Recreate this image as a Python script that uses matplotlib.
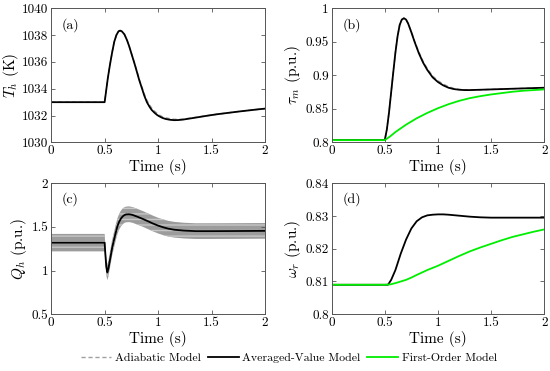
import matplotlib
matplotlib.use("Agg")
import matplotlib.pyplot as plt
from matplotlib.ticker import FormatStrFormatter
import numpy as np

# ---------------------------------------------------------------------------
# Data
# ---------------------------------------------------------------------------

# (a) hot-side temperature T_h (K)
TA_TIME = [0, 0.5, 0.51, 0.53, 0.55, 0.57, 0.59, 0.61, 0.63, 0.645, 0.66, 0.685,
           0.71, 0.73, 0.755, 0.78, 0.80, 0.825, 0.85, 0.87, 0.895, 0.92, 0.94,
           0.965, 0.99, 1.01, 1.04, 1.07, 1.11, 1.15, 1.19, 1.23, 1.27, 1.35,
           1.45, 1.55, 1.65, 1.75, 1.85, 1.95, 2.0]
TH_AVG = [1033.0, 1033.0, 1033.6, 1034.8, 1035.8, 1036.7, 1037.5, 1038.0, 1038.28,
          1038.33, 1038.28, 1038.05, 1037.6, 1037.15, 1036.5, 1035.85, 1035.3,
          1034.6, 1034.0, 1033.5, 1033.0, 1032.65, 1032.42, 1032.22, 1032.05,
          1031.95, 1031.83, 1031.75, 1031.69, 1031.66, 1031.67, 1031.7, 1031.75,
          1031.85, 1031.98, 1032.1, 1032.2, 1032.3, 1032.39, 1032.48, 1032.52]
TH_ADI = [1033.0, 1033.0, 1033.6, 1034.8, 1035.8, 1036.7, 1037.5, 1038.0, 1038.26,
          1038.3, 1038.25, 1038.03, 1037.6, 1037.15, 1036.52, 1035.9, 1035.36,
          1034.68, 1034.1, 1033.62, 1033.14, 1032.8, 1032.56, 1032.35, 1032.17,
          1032.05, 1031.92, 1031.84, 1031.77, 1031.73, 1031.72, 1031.74, 1031.78,
          1031.87, 1031.99, 1032.1, 1032.2, 1032.3, 1032.39, 1032.48, 1032.52]

# (b) mechanical torque tau_m (p.u.)
TB_TIME = [0, 0.5, 0.52, 0.54, 0.56, 0.58, 0.60, 0.62, 0.64, 0.66, 0.68, 0.70,
           0.72, 0.75, 0.78, 0.82, 0.86, 0.90, 0.95, 1.0, 1.05, 1.1, 1.15, 1.2,
           1.25, 1.3, 1.4, 1.5, 1.6, 1.7, 1.8, 1.9, 2.0]
TAU_AVG = [0.8035, 0.8035, 0.82, 0.845, 0.875, 0.905, 0.934, 0.958, 0.975, 0.983,
           0.985, 0.983, 0.977, 0.964, 0.950, 0.933, 0.919, 0.908, 0.897, 0.890,
           0.885, 0.8815, 0.8795, 0.8785, 0.878, 0.878, 0.8785, 0.879, 0.8795,
           0.880, 0.8805, 0.881, 0.8815]
TAU_ADI = [0.8035, 0.8035, 0.82, 0.845, 0.875, 0.905, 0.934, 0.958, 0.975, 0.983,
           0.985, 0.983, 0.977, 0.965, 0.951, 0.935, 0.921, 0.910, 0.899, 0.892,
           0.887, 0.883, 0.8805, 0.879, 0.8785, 0.8783, 0.8785, 0.879, 0.8795,
           0.880, 0.8805, 0.881, 0.8815]
TB1_TIME = [0, 0.5, 0.55, 0.6, 0.7, 0.8, 0.9, 1.0, 1.1, 1.2, 1.3, 1.4, 1.5, 1.6,
            1.7, 1.8, 1.9, 2.0]
TAU_FO = [0.8035, 0.8035, 0.809, 0.8155, 0.8265, 0.836, 0.844, 0.851, 0.857,
          0.862, 0.866, 0.869, 0.8715, 0.8735, 0.8755, 0.877, 0.878, 0.879]

# (c) heat flow Q_h (p.u.)
TC_TIME = [0, 0.5, 0.505, 0.515, 0.525, 0.535, 0.545, 0.557, 0.57, 0.589, 0.605,
           0.62, 0.636, 0.652, 0.668, 0.684, 0.70, 0.73, 0.76, 0.81, 0.86, 0.905,
           0.95, 1.0, 1.05, 1.095, 1.15, 1.24, 1.35, 1.5, 1.7, 1.85, 2.0]
QH_AVG = [1.32, 1.32, 1.22, 1.05, 0.98, 1.02, 1.09, 1.17, 1.26, 1.36, 1.44, 1.51,
          1.56, 1.595, 1.62, 1.635, 1.643, 1.645, 1.638, 1.615, 1.59, 1.565, 1.54,
          1.515, 1.495, 1.48, 1.468, 1.458, 1.452, 1.452, 1.453, 1.454, 1.455]
QH_RIPPLE = [0.1, 0.1, 0.1, 0.1, 0.09, 0.09, 0.09, 0.09, 0.09, 0.09, 0.09, 0.09,
             0.09, 0.09, 0.09, 0.09, 0.09, 0.09, 0.09, 0.09, 0.09, 0.09, 0.09, 0.09,
             0.09, 0.09, 0.09, 0.09, 0.09, 0.09, 0.09, 0.09, 0.09]

# (d) rotor speed omega_r (p.u.)
TD_TIME = [0, 0.5, 0.53, 0.56, 0.6, 0.65, 0.7, 0.75, 0.8, 0.85, 0.9, 0.95, 1.0,
           1.05, 1.1, 1.2, 1.3, 1.4, 1.5, 1.6, 1.7, 1.8, 1.9, 2.0]
OMEGA_AVG = [0.809, 0.809, 0.809, 0.8105, 0.8135, 0.8185, 0.8228, 0.8262, 0.8284,
             0.8296, 0.8302, 0.8304, 0.8305, 0.8305, 0.8304, 0.8301, 0.8298,
             0.8296, 0.8295, 0.8295, 0.8295, 0.8295, 0.8295, 0.8295]
TD1_TIME = [0, 0.5, 0.55, 0.6, 0.7, 0.75, 0.8, 0.9, 1.0, 1.1, 1.2, 1.3, 1.4, 1.5,
            1.6, 1.7, 1.8, 1.9, 2.0]
OMEGA_FO = [0.809, 0.809, 0.8091, 0.8095, 0.8105, 0.8112, 0.812, 0.8135, 0.8148,
            0.8163, 0.8178, 0.8192, 0.8204, 0.8215, 0.8226, 0.8236, 0.8244,
            0.8252, 0.8259]

# ---------------------------------------------------------------------------
# Style
# ---------------------------------------------------------------------------

plt.rcParams["font.family"] = ["cmr10", "DejaVu Serif"]
plt.rcParams["mathtext.fontset"] = "cm"
plt.rcParams["axes.formatter.use_mathtext"] = True

C_ADI = "#a0a0a0"
C_AVG = "#000000"
C_FO = "#00ee00"
SPINE = "#555555"
LW = 1.3

fig = plt.figure(figsize=(5.5, 3.71), dpi=100)
fig.patch.set_facecolor("white")

RECTS = {
    "a": [0.093, 0.616, 0.389, 0.362],
    "b": [0.603, 0.616, 0.3865, 0.362],
    "c": [0.093, 0.153, 0.389, 0.353],
    "d": [0.603, 0.153, 0.3865, 0.353],
}


def style(ax, ylim, yticks, ylabel, tag, ylabelpad=2):
    ax.set_xlim(0, 2)
    ax.set_ylim(*ylim)
    ax.set_xticks([0, 0.5, 1, 1.5, 2])
    ax.set_yticks(yticks)
    ax.xaxis.set_major_formatter(FormatStrFormatter("%g"))
    ax.yaxis.set_major_formatter(FormatStrFormatter("%g"))
    ax.tick_params(direction="in", top=True, right=True, length=3, width=0.6,
                   color=SPINE, labelsize=9.5, pad=2)
    for s in ax.spines.values():
        s.set_edgecolor(SPINE)
        s.set_linewidth(0.7)
    ax.set_xlabel("Time (s)", fontsize=11, labelpad=1)
    ax.set_ylabel(ylabel, fontsize=11, labelpad=ylabelpad)
    ax.text(0.05, 0.85, f"({tag})", transform=ax.transAxes, fontsize=10)


ax_a = fig.add_axes(RECTS["a"])
l_adi, = ax_a.plot(TA_TIME, TH_ADI, "--", color=C_ADI, lw=1.0, dashes=(3, 2),
                   label="Adiabatic Model")
l_avg, = ax_a.plot(TA_TIME, TH_AVG, color=C_AVG, lw=LW, label="Averaged-Value Model")
style(ax_a, (1030, 1040), range(1030, 1041, 2), r"$T_h$ (K)", "a", ylabelpad=0.5)

ax_b = fig.add_axes(RECTS["b"])
ax_b.plot(TB_TIME, TAU_ADI, "--", color=C_ADI, lw=1.0, dashes=(3, 2))
ax_b.plot(TB_TIME, TAU_AVG, color=C_AVG, lw=LW)
l_fo, = ax_b.plot(TB1_TIME, TAU_FO, color=C_FO, lw=LW, label="First-Order Model")
style(ax_b, (0.8, 1.0), [0.8, 0.85, 0.9, 0.95, 1.0], r"$\tau_m$ (p.u.)", "b")

ax_c = fig.add_axes(RECTS["c"])
q = np.array(QH_AVG)
r = np.array(QH_RIPPLE)
ax_c.fill_between(TC_TIME, q - r, q + r, facecolor="#9c9c9c", edgecolor="#c6c6c6",
                  hatch="---", linewidth=0)
ax_c.plot(TC_TIME, QH_AVG, color=C_AVG, lw=LW)
style(ax_c, (0.5, 2.0), [0.5, 1, 1.5, 2], r"$Q_h$ (p.u.)", "c")

ax_d = fig.add_axes(RECTS["d"])
ax_d.plot(TD_TIME, OMEGA_AVG, color=C_AVG, lw=LW)
ax_d.plot(TD1_TIME, OMEGA_FO, color=C_FO, lw=LW)
style(ax_d, (0.8, 0.84), [0.8, 0.81, 0.82, 0.83, 0.84], r"$\omega_r$ (p.u.)", "d")

fig.legend(handles=[l_adi, l_avg, l_fo], loc="center", bbox_to_anchor=(0.525, 0.036),
           ncol=3, frameon=False, fontsize=8.5, handlelength=2.6, handletextpad=0.3,
           columnspacing=0.6, borderaxespad=0)

fig.savefig("out.png", dpi=100, facecolor="white")
